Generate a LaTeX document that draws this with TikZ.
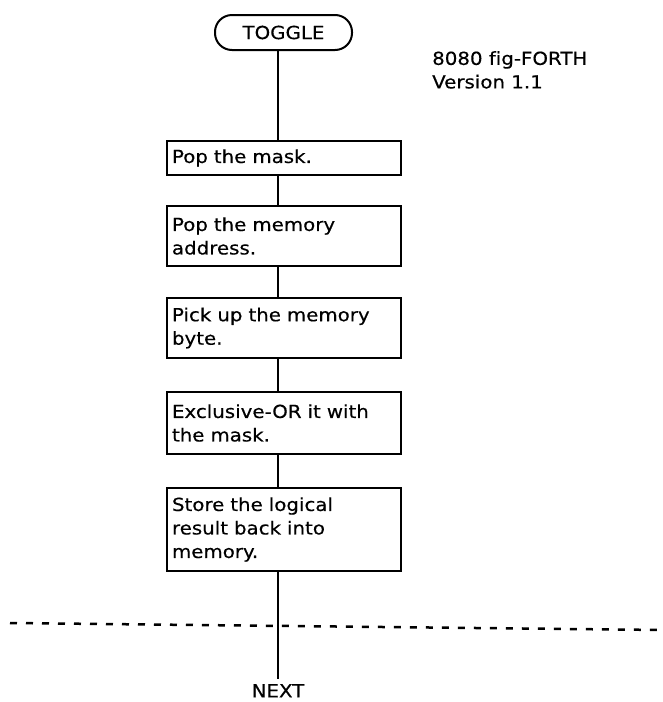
\documentclass[tikz,border=0pt]{standalone}
\usepackage{fontspec}
\setmainfont{DejaVu Sans}[FakeStretch=1.1,FakeBold=0.4,Ligatures=NoCommon]
\begin{document}
\begin{tikzpicture}[x=1pt,y=-1pt,
  every node/.style={font=\fontsize{18}{23.5}\selectfont},
  stepbox/.style={draw, line width=2pt, minimum width=234pt, text width=224pt,
    inner xsep=5pt, inner ysep=0pt, align=left, anchor=north},
  term/.style={draw, line width=2pt, rounded corners=17pt, minimum width=137pt,
    minimum height=35pt, inner sep=0pt},
  link/.style={line width=2.5pt}]
\useasboundingbox (0,0) rectangle (663,702);
\coordinate (spine) at (278,0);
\node[term] (toggle) at (283.5,32.5) {TOGGLE};
\node[anchor=north west, inner sep=0pt, align=left] (ver) at (432,51)
  {8080 fig-FORTH\\Version 1.1};
\node[stepbox, minimum height=34pt] (b1) at (284,140) {Pop the mask.};
\node[stepbox, minimum height=60pt] (b2) at (284,205) {Pop the memory\\address.};
\node[stepbox, minimum height=60pt] (b3) at (284,297) {Pick up the memory\\byte.};
\node[stepbox, minimum height=62pt] (b4) at (284,391) {Exclusive-OR it with\\the mask.};
\node[stepbox, minimum height=83pt] (b5) at (284,487) {Store the logical\\result back into\\memory.};
\node[anchor=north, inner sep=0pt] (next) at (278,684) {NEXT};
\coordinate (nexttop) at (278,679);
\coordinate (dl) at (10,623);
\coordinate (dr) at (663,630);
\draw[link] (toggle.south -| spine) -- (b1.north -| spine);
\draw[link] (b1.south -| spine) -- (b2.north -| spine);
\draw[link] (b2.south -| spine) -- (b3.north -| spine);
\draw[link] (b3.south -| spine) -- (b4.north -| spine);
\draw[link] (b4.south -| spine) -- (b5.north -| spine);
\draw[link] (b5.south -| spine) -- (nexttop);
\draw[line width=2.5pt, dash pattern=on 7pt off 9pt] (dl) -- (dr);
\end{tikzpicture}
\end{document}
